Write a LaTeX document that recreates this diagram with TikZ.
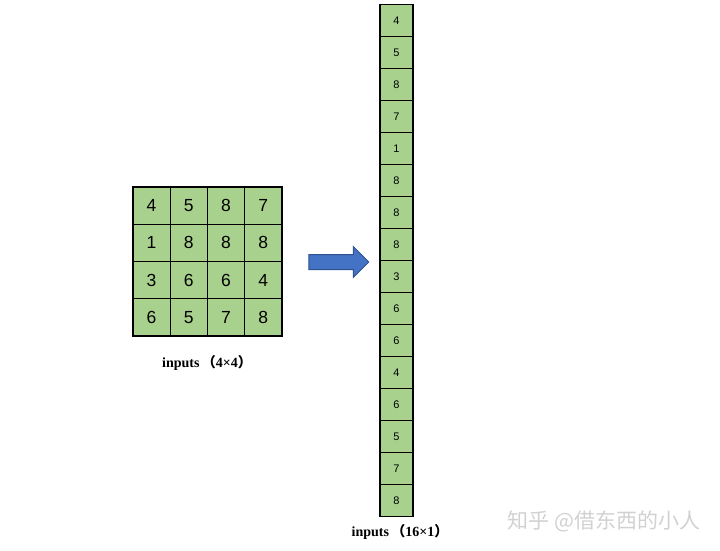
\documentclass[tikz,border=0pt]{standalone}
\usepackage{fontspec}
\setmainfont{Liberation Serif}
\newfontfamily\digitfont{Liberation Sans}
\newfontfamily\cjk{Noto Sans CJK SC}
\usetikzlibrary{positioning,shapes.arrows}
\definecolor{cellgreen}{HTML}{A9D18E}
\definecolor{arrowblue}{HTML}{4472C4}
\definecolor{arrowedge}{HTML}{2F528F}

\begin{document}
\begin{tikzpicture}[x=1pt,y=-1pt,
    cell/.style={draw=black,fill=cellgreen,line width=1.3pt,minimum size=37.25pt,
                 inner sep=0pt,font=\digitfont\fontsize{17.5}{17.5}\selectfont},
    slot/.style={draw=black,fill=cellgreen,line width=1.3pt,minimum width=33pt,
                 minimum height=32pt,inner sep=0pt,outer sep=0pt,
                 font=\digitfont\fontsize{11}{11}\selectfont},
    caption/.style={font=\bfseries\fontsize{14}{14}\selectfont}]
  \useasboundingbox (0,0) rectangle (720,551);

  % the 4x4 input
  \foreach \row/\vals in {0/{4,5,8,7},1/{1,8,8,8},2/{3,6,6,4},3/{6,5,7,8}}
    \foreach \v [count=\col from 0] in \vals
      \node[cell] (g\row\col) at (151.6+37.25*\col, 205.6+37.25*\row) {\v};
  \node[caption] (lab1) at (207,363) {inputs\,{\cjk（}4×4{\cjk）}};

  % flattening arrow
  \node[single arrow,draw=arrowedge,fill=arrowblue,line width=1pt,
        inner xsep=0pt,inner ysep=7pt,minimum height=60pt,
        single arrow head extend=8pt] (flat) at (335,262) {};

  % the 16x1 column
  \node[slot] (c1) at (396.5,20.5) {4};
  \foreach \v [count=\i from 2, remember=\i as \j (initially 1)]
      in {5,8,7,1,8,8,8,3,6,6,4,6,5,7,8}
    \node[slot,below=0pt of c\j] (c\i) {\v};
  \node[caption] (lab2) at (400,532) {inputs\,{\cjk（}16×1{\cjk）}};

  \node[font=\cjk\fontsize{21}{21}\selectfont,text=black!18] (mark) at (604,521)
    {知乎 @借东西的小人};
\end{tikzpicture}
\end{document}
